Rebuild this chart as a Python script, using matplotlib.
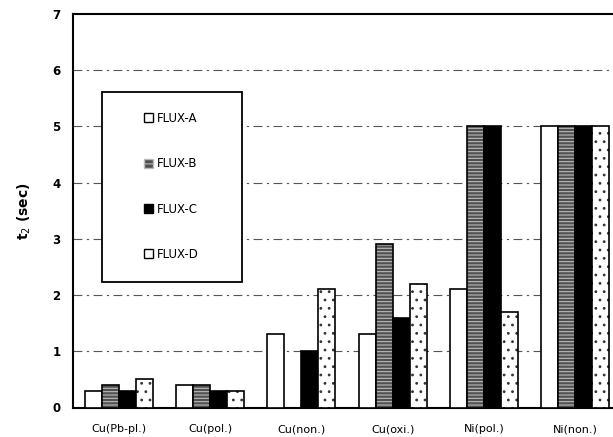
import matplotlib
matplotlib.use('Agg')
import matplotlib.pyplot as plt
import numpy as np
from matplotlib.patches import Rectangle, Patch

# data
categories = ['Cu(Pb-pl.)', 'Cu(pol.)', 'Cu(non.)', 'Cu(oxi.)', 'Ni(pol.)', 'Ni(non.)']
flux_a = [0.3, 0.4, 1.3, 1.3, 2.1, 5.0]
flux_b = [0.4, 0.4, 0.0, 2.9, 5.0, 5.0]
flux_c = [0.3, 0.3, 1.0, 1.6, 5.0, 5.0]
flux_d = [0.5, 0.3, 2.1, 2.2, 1.7, 5.0]
labels = ['FLUX-A', 'FLUX-B', 'FLUX-C', 'FLUX-D']

plt.rcParams['font.family'] = 'DejaVu Sans'
plt.rcParams['hatch.linewidth'] = 0.8

fig = plt.figure(figsize=(6.13, 4.37), dpi=100)
ax = fig.add_axes([73/613, 29.5/437, 548/613, 393.5/437])

x = np.arange(len(categories))
w = 0.186
offs = np.array([-1.5, -0.5, 0.5, 1.5]) * w

# white bars
ax.bar(x + offs[0], flux_a, w, facecolor='white', edgecolor='black', lw=1.2, zorder=3)
# gray hatched bars (hatch first, outline on top)
ax.bar(x + offs[1], flux_b, w, facecolor='#505050', edgecolor='#bbbbbb', hatch='-----', lw=0, zorder=3)
ax.bar(x + offs[1], flux_b, w, facecolor='none', edgecolor='black', lw=1.2, zorder=4)
# black bars
ax.bar(x + offs[2], flux_c, w, facecolor='black', edgecolor='black', lw=1.2, zorder=3)
# speckled bars
ax.bar(x + offs[3], flux_d, w, facecolor='white', edgecolor='#333333', hatch='..', lw=0, zorder=3)
ax.bar(x + offs[3], flux_d, w, facecolor='none', edgecolor='black', lw=1.2, zorder=4)

ax.set_xlim(-0.5, 5.5)
ax.set_ylim(0, 7)
ax.set_yticks(range(8))
ax.set_xticks(x)
ax.set_xticklabels(categories, fontsize=8)
ax.tick_params(axis='both', length=0)
ax.tick_params(axis='y', pad=9, labelsize=8.5)
ax.tick_params(axis='x', pad=12)
for t in ax.get_yticklabels():
    t.set_fontweight('bold')

for yv in range(1, 7):
    ax.axhline(yv, color='#555555', lw=0.8, ls=(0, (8, 4, 2, 4)), zorder=1)

for s in ['left', 'bottom', 'top', 'right']:
    ax.spines[s].set_linewidth(1.5)

ax.set_ylabel('t$_2$ (sec)', fontsize=10, fontweight='bold', labelpad=14)

# legend box
ax.add_patch(Rectangle((0.053, 0.319), 0.255, 0.483, transform=ax.transAxes,
                       facecolor='white', edgecolor='black', lw=1.3, zorder=5))
handles = [Patch(facecolor='white', edgecolor='black'),
           Patch(facecolor='#505050', edgecolor='#bbbbbb', hatch='---'),
           Patch(facecolor='black', edgecolor='black'),
           Patch(facecolor='white', edgecolor='black')]
leg = ax.legend(handles, labels, loc='center', bbox_to_anchor=(0.179, 0.562),
                frameon=False, fontsize=8.5, handlelength=0.8, handleheight=0.8,
                handletextpad=0.3, labelspacing=2.75)
leg.set_zorder(6)

fig.savefig('out.png', dpi=100)
